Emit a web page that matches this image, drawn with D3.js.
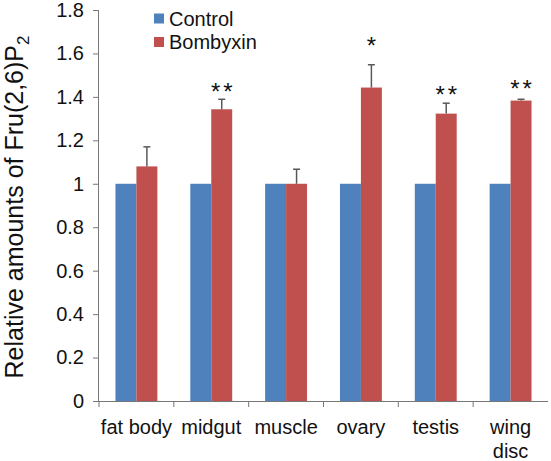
<!DOCTYPE html>
<html>
<head>
<meta charset="utf-8">
<script src="https://cdn.jsdelivr.net/npm/d3@7"></script>
<style>
  html, body { margin: 0; padding: 0; background: #fff; }
  svg { display: block; font-family: "Liberation Sans", Arial, sans-serif; }
</style>
</head>
<body>
<svg id="chart" width="551" height="461"></svg>
<script>
// ---- data ----
const categories = ["fat body", "midgut", "muscle", "ovary", "testis", "wing disc"];
const categoryLabels = [["fat body"], ["midgut"], ["muscle"], ["ovary"], ["testis"], ["wing", "disc"]];
const seriesNames = ["Control", "Bombyxin"];
const controlValues = [1, 1, 1, 1, 1, 1];
const bombyxinValues = [1.08, 1.343, 1.0, 1.443, 1.323, 1.383];
const bombyxinErrors = [0.09, 0.046, 0.067, 0.105, 0.048, 0.006];
const significance = ["", "**", "", "*", "**", "**"];
const significanceLevel = [null, 1.45, null, 1.662, 1.437, 1.465];
const yTicks = [0, 0.2, 0.4, 0.6, 0.8, 1, 1.2, 1.4, 1.6, 1.8];
const yLabel = "Relative amounts of Fru(2,6)P";
const yLabelSub = "2";
const colors = ["#4F81BD", "#C0504D"];

// ---- layout ----
const svg = d3.select("#chart");
const plotLeft = 99, plotRight = 548, plotTop = 10, plotBottom = 401;

const y = d3.scaleLinear().domain([0, 1.8]).range([plotBottom, plotTop]);
const x0 = d3.scaleBand().domain(categories).range([plotLeft, plotRight])
  .paddingInner(0.44).paddingOuter(0.22);
const x1 = d3.scaleBand().domain(seriesNames).range([0, x0.bandwidth()]);

const rows = categories.map((c, i) => ({
  cat: c,
  vals: [
    { s: seriesNames[0], v: controlValues[i] },
    { s: seriesNames[1], v: bombyxinValues[i], e: bombyxinErrors[i] }
  ],
  sig: significance[i],
  sigY: significanceLevel[i]
}));

// bars
const groups = svg.append("g").selectAll("g").data(rows).join("g")
  .attr("transform", d => `translate(${x0(d.cat)},0)`);
groups.selectAll("rect").data(d => d.vals).join("rect")
  .attr("x", d => x1(d.s))
  .attr("width", x1.bandwidth())
  .attr("y", d => y(d.v))
  .attr("height", d => y(0) - y(d.v))
  .attr("fill", (d, i) => colors[i]);

// error bars (upper only)
const errG = svg.append("g").attr("stroke", "#595959").attr("stroke-width", 1.5);
rows.forEach(r => {
  const d = r.vals[1];
  const cx = x0(r.cat) + x1(d.s) + x1.bandwidth() / 2;
  errG.append("line").attr("x1", cx).attr("x2", cx).attr("y1", y(d.v)).attr("y2", y(d.v + d.e));
  errG.append("line").attr("x1", cx - 3.5).attr("x2", cx + 3.5).attr("y1", y(d.v + d.e)).attr("y2", y(d.v + d.e));
});

// significance stars
rows.filter(r => r.sig).forEach(r => {
  const cx = x0(r.cat) + x1(seriesNames[1]) + x1.bandwidth() / 2;
  svg.append("text")
    .attr("x", cx + (r.sig.length > 1 ? 1.5 : 0))
    .attr("y", y(r.sigY) + 14)
    .attr("text-anchor", "middle")
    .attr("font-size", 24)
    .attr("letter-spacing", r.sig.length > 1 ? 3 : 0)
    .attr("fill", "#111")
    .text(r.sig);
});

// y axis
const yAxis = d3.axisLeft(y).tickValues(yTicks)
  .tickFormat(d => d3.format("")(+d.toFixed(1)))
  .tickSize(6).tickPadding(9);
const yg = svg.append("g").attr("transform", `translate(${plotLeft},0)`).call(yAxis);
yg.select(".domain").attr("stroke", "#777").attr("d", `M-0.5,${plotTop}V${plotBottom}`);
yg.selectAll(".tick line").attr("stroke", "#777");
yg.selectAll(".tick text").attr("font-size", 20).attr("fill", "#111")
  .attr("font-family", "'Liberation Sans', Arial, sans-serif");

// x axis
const xg = svg.append("g").attr("transform", `translate(0,${plotBottom})`);
xg.append("line").attr("x1", plotLeft - 6).attr("x2", plotRight).attr("y1", 0.5).attr("y2", 0.5).attr("stroke", "#777");
const boundaries = categories.map(c => x0(c) - x0.step() * x0.paddingInner() / 2);
xg.selectAll(".bt").data(boundaries).join("line")
  .attr("x1", d => d).attr("x2", d => d).attr("y1", 0).attr("y2", 6).attr("stroke", "#777");
const xl = xg.selectAll(".xl").data(categories).join("text")
  .attr("text-anchor", "middle")
  .attr("font-size", 20)
  .attr("fill", "#111")
  .attr("transform", d => `translate(${x0(d) + x0.bandwidth() / 2},33)`);
xl.each(function(d, i) {
  const t = d3.select(this);
  categoryLabels[i].forEach((line, j) => {
    t.append("tspan").attr("x", 0).attr("y", j * 23.5).text(line);
  });
});

// y label
const yl = svg.append("text")
  .attr("transform", "translate(23,207) rotate(-90)")
  .attr("text-anchor", "middle")
  .attr("font-size", 25)
  .attr("fill", "#111");
yl.append("tspan").text(yLabel);
yl.append("tspan").attr("font-size", 17).attr("dy", 6).text(yLabelSub);

// legend
const legend = svg.append("g").attr("transform", "translate(154,13)");
seriesNames.forEach((s, i) => {
  const g = legend.append("g").attr("transform", `translate(0,${i * 23.5})`);
  g.append("rect").attr("width", 10).attr("height", 10).attr("y", 0.5).attr("fill", colors[i]);
  g.append("text").attr("x", 15).attr("y", 12.5).attr("font-size", 20).attr("fill", "#111").text(s);
});
</script>
</body>
</html>
